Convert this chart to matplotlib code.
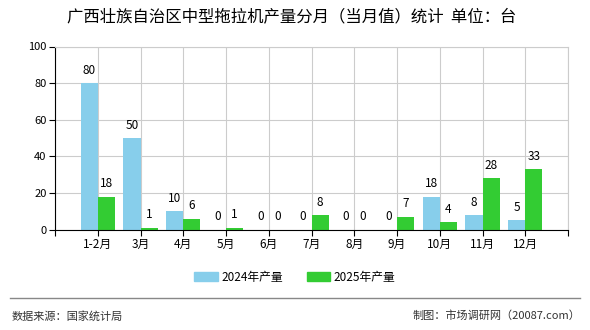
import numpy as np
import matplotlib.pyplot as plt
from matplotlib.patches import Patch

plt.rcParams['font.family'] = ['Noto Sans CJK SC', 'DejaVu Sans']

# 数据
months = ['1-2月', '3月', '4月', '5月', '6月', '7月', '8月', '9月', '10月', '11月', '12月']
output_2024 = [80, 50, 10, 0, 0, 0, 0, 0, 18, 8, 5]
output_2025 = [18, 1, 6, 1, 0, 8, 0, 7, 4, 28, 33]
y_ticks = [0, 20, 40, 60, 80, 100]

color_2024 = '#87CEEB'
color_2025 = '#33CC33'

fig = plt.figure(figsize=(5.9, 3.3), dpi=100)
ax = fig.add_axes([55 / 590, 1 - 229.5 / 330, 513 / 590, 183 / 330])

x = np.arange(len(months))
w = 0.4
bars1 = ax.bar(x - w / 2, output_2024, width=w, color=color_2024, zorder=3)
bars2 = ax.bar(x + w / 2, output_2025, width=w, color=color_2025, zorder=3)

# 数值标签
for bars, vals in ((bars1, output_2024), (bars2, output_2025)):
    for b, v in zip(bars, vals):
        ax.text(b.get_x() + b.get_width() / 2, v + 7, str(v),
                ha='center', va='center', fontsize=8.5, color='black')

ax.set_xlim(-1, 11)
ax.set_ylim(0, 100)
ax.set_yticks(y_ticks)
ax.set_yticklabels([str(t) for t in y_ticks], fontsize=8)
ax.set_xticks(np.arange(-1, 12))
ax.set_xticklabels([''] + months + [''], fontsize=8.5)
ax.tick_params(axis='both', length=4, width=0.8, color='black', pad=2)

ax.grid(True, color='#cccccc', linewidth=0.8, zorder=0)
for s in ('top', 'right'):
    ax.spines[s].set_color('#cccccc')
ax.spines['left'].set_color('black')
ax.spines['bottom'].set_color('black')
ax.spines['bottom'].set_zorder(4)

fig.text(0.495, 1 - 17 / 330, '广西壮族自治区中型拖拉机产量分月（当月值）统计  单位：台',
         ha='center', va='center', fontsize=11.8)

handles = [Patch(color=color_2024, label='2024年产量'),
           Patch(color=color_2025, label='2025年产量')]
fig.legend(handles=handles, loc='center', bbox_to_anchor=(0.5, 1 - 277 / 330),
           ncol=2, frameon=False, fontsize=8.5, handlelength=2.0, handleheight=0.7,
           columnspacing=2.0, handletextpad=0.3)

fig.add_artist(plt.Line2D([10 / 590, 580 / 590], [1 - 298 / 330, 1 - 298 / 330],
                          color='#888888', linewidth=1))
fig.text(12 / 590, 1 - 316 / 330, '数据来源：国家统计局', ha='left', va='center',
         fontsize=8, color='#333333')
fig.text(580 / 590, 1 - 316 / 330, '制图：市场调研网（20087.com）', ha='right', va='center',
         fontsize=8, color='#333333')

fig.savefig('out.png', dpi=100)
